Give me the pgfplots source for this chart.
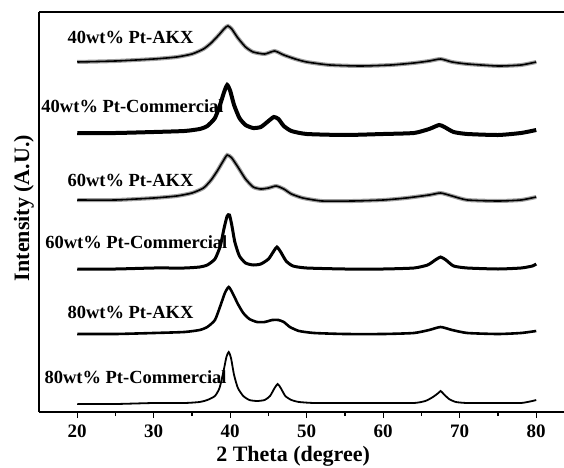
\documentclass[border=0pt]{standalone}
\usepackage{pgfplots}
\pgfplotsset{compat=1.18}
\usepackage{fontspec}
\setmainfont{Liberation Serif}
\pgfplotstableread{
x y
20 63
25 63
30 64
34 64
36 65
37 67
38 71
38.6 79
39.1 95
39.5 110
39.8 115
40.1 109
40.5 92
41 79
41.7 71
42.5 67
43.5 66
44.5 67
45.2 71
45.8 79
46.2 83
46.6 79
47.2 71
48 67
49 65
51 64
55 64
60 64
64 64
65.5 66
66.5 70
67.2 74
67.5 76
67.9 73
68.6 68
69.5 65
71 64
75 64
78 64
79.5 66
80 67
}\comeighty
\pgfplotstableread{
x y
20 133
25 133
30 134
34 135
36 137
37 140
38 147
38.7 161
39.3 174
39.8 180
40.3 174
41 163
41.7 154
42.5 148
43.5 145
44.5 145
45.5 147
46.3 147
47 145
47.8 140
49 136
51 134
55 133
60 133
64 134
66 137
67.5 140
69 137
71 134
75 133
78 134
80 136
}\akxeighty
\pgfplotstableread{
x y
20 198
25 198
30 199
34 199
36 200
37 202
38 208
38.7 221
39.2 239
39.6 251
39.9 252
40.2 242
40.6 225
41.2 211
42 204
43 202
44 203
45 208
45.7 216
46.1 220
46.6 215
47.3 206
48.2 201
50 199
55 198
60 198
64 199
65.8 202
66.8 207
67.5 210
68.2 207
69.2 201
71 199
75 198
78 199
79.5 201
80 203
}\comsixty
\pgfplotstableread{
x y
20 267
25 267
30 269
33 271
35 274
36.5 279
37.5 287
38.3 296
39 305
39.6 312
40.2 309
41 300
42 288
43 280
44 278
45 279
46 281
47 278
48 273
49.5 269
52 266
56 266
60 267
63 269
66 272
67.5 274
69 271
71 267
75 266
78 267
80 270
}\akxsixty
\pgfplotstableread{
x y
20 334
25 334
30 335
34 336
36 338
37 341
38 349
38.7 363
39.2 375
39.6 382
40 376
40.5 362
41.2 349
42 342
43 339
44 340
45 346
45.7 350
46.3 348
47 341
48 336
50 333
55 332
60 333
64 334
66 338
67.3 342
68 340
69.2 335
71 333
75 332
78 334
80 337
}\comforty
\pgfplotstableread{
x y
20 405
25 406
30 408
33 410
35 413
36.5 418
37.5 424
38.5 432
39.3 439
39.7 441
40.2 438
41 429
42 420
43 415
44.5 413
45.8 416
47 412
48.5 408
50 405
53 402
57 401
61 402
64 404
66 406
67.5 408
69 405
71 403
75 401
78 402
80 405
}\akxforty
\begin{document}
\begin{tikzpicture}
\path[use as bounding box] (0,0) rectangle (564pt,467pt);
\begin{axis}[
  at={(39pt,55pt)}, anchor=south west,
  scale only axis, width=525pt, height=400pt,
  xmin=15, xmax=83.63, ymin=55, ymax=455,
  axis x line*=box, axis y line*=left,
  axis line style={line width=1.6pt},
  xtick={20,30,40,50,60,70,80},
  xticklabels={20,30,40,50,60,70,80},
  minor x tick num=1,
  xtick pos=bottom, tick align=outside,
  major tick length=6pt, minor tick length=4pt,
  every tick/.style={black, line width=1.4pt},
  ytick=\empty,
  tick label style={font=\fontsize{19}{19}\selectfont\bfseries},
  xticklabel style={yshift=-3pt},
  xlabel={2 Theta (degree)},
  ylabel={Intensity (A.U.)},
  every axis x label/.append style={at={(axis description cs:0.484,-0.11)}, anchor=center, font=\fontsize{22}{22}\selectfont\bfseries},
  every axis y label/.append style={at={(axis description cs:-0.0286,0.51)}, anchor=center, rotate=0, font=\fontsize{22}{22}\selectfont\bfseries},
  clip=false,
]
\tikzset{lab/.style={anchor=west, font=\fontsize{18.5}{18.5}\selectfont\bfseries, inner sep=0pt}}
\node[lab] at (axis cs:18.7,430) {40wt\% Pt-AKX};
\node[lab] at (axis cs:15.3,361) {40wt\% Pt-Commercial};
\node[lab] at (axis cs:18.7,287) {60wt\% Pt-AKX};
\node[lab] at (axis cs:15.8,225) {60wt\% Pt-Commercial};
\node[lab] at (axis cs:18.7,155) {80wt\% Pt-AKX};
\node[lab] at (axis cs:15.7,90) {80wt\% Pt-Commercial};
\addplot[gray!75, line width=4pt, smooth, tension=0.35] table {\akxforty};
\addplot[black, line width=1.6pt, smooth, tension=0.35] table {\akxforty};
\addplot[black, line width=4pt, smooth, tension=0.35] table {\comforty};
\addplot[gray!75, line width=4pt, smooth, tension=0.35] table {\akxsixty};
\addplot[black, line width=1.6pt, smooth, tension=0.35] table {\akxsixty};
\addplot[black, line width=3pt, smooth, tension=0.35] table {\comsixty};
\addplot[black, line width=2.6pt, smooth, tension=0.35] table {\akxeighty};
\addplot[black, line width=1.8pt, smooth, tension=0.35] table {\comeighty};
\end{axis}
\end{tikzpicture}
\end{document}
